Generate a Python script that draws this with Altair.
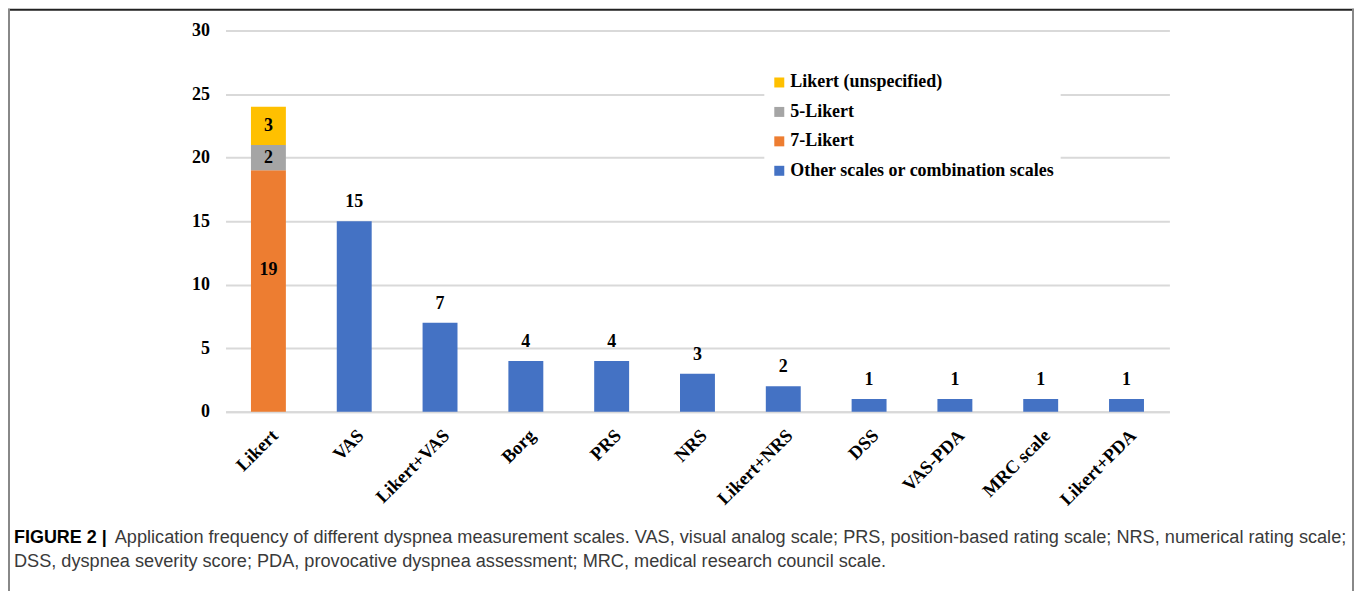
import altair as alt
import pandas as pd

categories = ["Likert", "VAS", "Likert+VAS", "Borg", "PRS", "NRS",
              "Likert+NRS", "DSS", "VAS-PDA", "MRC scale", "Likert+PDA"]
likert_series = ["7-Likert", "5-Likert", "Likert (unspecified)"]
likert_values = [19, 2, 3]
other_series = "Other scales or combination scales"
other_values = [15, 7, 4, 4, 3, 2, 1, 1, 1, 1]

legend_order = ["Likert (unspecified)", "5-Likert", "7-Likert", other_series]
legend_colors = ["#FFC000", "#A5A5A5", "#ED7D31", "#4472C4"]

caption_bold = "FIGURE 2 |"
caption_line1 = ("Application frequency of different dyspnea measurement scales. VAS, visual analog scale; "
                 "PRS, position-based rating scale; NRS, numerical rating scale;")
caption_line2 = ("DSS, dyspnea severity score; PDA, provocative dyspnea assessment; MRC, medical research council scale.")

rows = []
for i, (s, v) in enumerate(zip(likert_series, likert_values)):
    rows.append({"category": categories[0], "series": s, "value": v, "order": i})
for c, v in zip(categories[1:], other_values):
    rows.append({"category": c, "series": other_series, "value": v, "order": 0})
df = pd.DataFrame(rows)

SERIF = "Liberation Serif"
SANS = "Liberation Sans"

base = alt.Chart(df).transform_stack(
    stack="value", groupby=["category"], sort=[alt.SortField("order")], as_=["y0", "y1"]
).transform_calculate(mid="(datum.y0 + datum.y1) / 2")

x_enc = alt.X("category:N", sort=categories, title=None,
              scale=alt.Scale(paddingInner=0.593, paddingOuter=0.2965),
              axis=alt.Axis(labelAngle=-45, labelAlign="right", labelBaseline="top",
                            labelPadding=14, labelFont=SERIF, labelFontWeight="bold",
                            labelFontSize=18.5, labelColor="#000000", ticks=False,
                            domainColor="#D9D9D9", domainWidth=2, labelLimit=300))
y_scale = alt.Scale(domain=[0, 30])

bars = base.mark_bar().encode(
    x=x_enc,
    y=alt.Y("y0:Q", scale=y_scale, title=None,
            axis=alt.Axis(values=[0, 5, 10, 15, 20, 25, 30], grid=True, gridColor="#D9D9D9",
                          gridWidth=2, domain=False, ticks=False, labelPadding=16,
                          labelFont=SERIF, labelFontWeight="bold", labelFontSize=18,
                          labelColor="#000000")),
    y2="y1:Q",
    color=alt.Color("series:N", scale=alt.Scale(domain=legend_order, range=legend_colors),
                    legend=alt.Legend(title=None, orient="none", legendX=540, legendY=37,
                                      symbolType="square", symbolSize=100, symbolStrokeWidth=0,
                                      labelFont=SERIF, labelFontWeight="bold", labelFontSize=18,
                                      labelColor="#000000", rowPadding=11.5, fillColor="#FFFFFF",
                                      padding=6, labelOffset=2, labelLimit=400)),
)

txt_style = dict(font=SERIF, fontWeight="bold", fontSize=18, color="#000000")

top_labels = base.transform_filter(alt.datum.series == other_series).mark_text(
    baseline="bottom", dy=-10, **txt_style
).encode(x=alt.X("category:N", sort=categories), y=alt.Y("y1:Q", scale=y_scale), text="value:Q")

mid_labels = base.transform_filter(
    (alt.datum.series != other_series) & (alt.datum.series != "7-Likert")
).mark_text(baseline="middle", **txt_style).encode(
    x=alt.X("category:N", sort=categories), y=alt.Y("mid:Q", scale=y_scale), text="value:Q")

big_label = base.transform_filter(alt.datum.series == "7-Likert").mark_text(
    baseline="middle", dy=-21, **txt_style
).encode(x=alt.X("category:N", sort=categories), y=alt.Y("mid:Q", scale=y_scale), text="value:Q")

one = alt.Chart(pd.DataFrame({"k": [0]}))

border_top = one.mark_rule(color="#222222", strokeWidth=2).encode(
    x=alt.value(-218), x2=alt.value(1131), y=alt.value(-21))
border_left = one.mark_rule(color="#888888", strokeWidth=2).encode(
    x=alt.value(-217), y=alt.value(-22), y2=alt.value(580))
border_right = one.mark_rule(color="#888888", strokeWidth=2).encode(
    x=alt.value(1130), y=alt.value(-22), y2=alt.value(580))

cap_bold = one.mark_text(align="left", baseline="middle", font=SANS, fontWeight="bold",
                         fontSize=18, color="#000000").encode(
    x=alt.value(-212), y=alt.value(509), text=alt.value(caption_bold))
cap_l1 = one.mark_text(align="left", baseline="middle", font=SANS, fontSize=18.2,
                       color="#3a3a3a").encode(
    x=alt.value(-111), y=alt.value(509), text=alt.value(caption_line1))
cap_l2 = one.mark_text(align="left", baseline="middle", font=SANS, fontSize=18.2,
                       color="#3a3a3a").encode(
    x=alt.value(-212), y=alt.value(533), text=alt.value(caption_line2))

chart = alt.layer(
    bars, top_labels, mid_labels, big_label,
    border_top, border_left, border_right, cap_bold, cap_l1, cap_l2
).properties(
    width=946, height=382,
    autosize=alt.AutoSizeParams(type="none"),
    padding={"left": 218, "top": 22, "right": 186, "bottom": 180},
).configure_view(stroke=None)

chart.save("out.html", embed_options={"renderer": "svg", "actions": False})
